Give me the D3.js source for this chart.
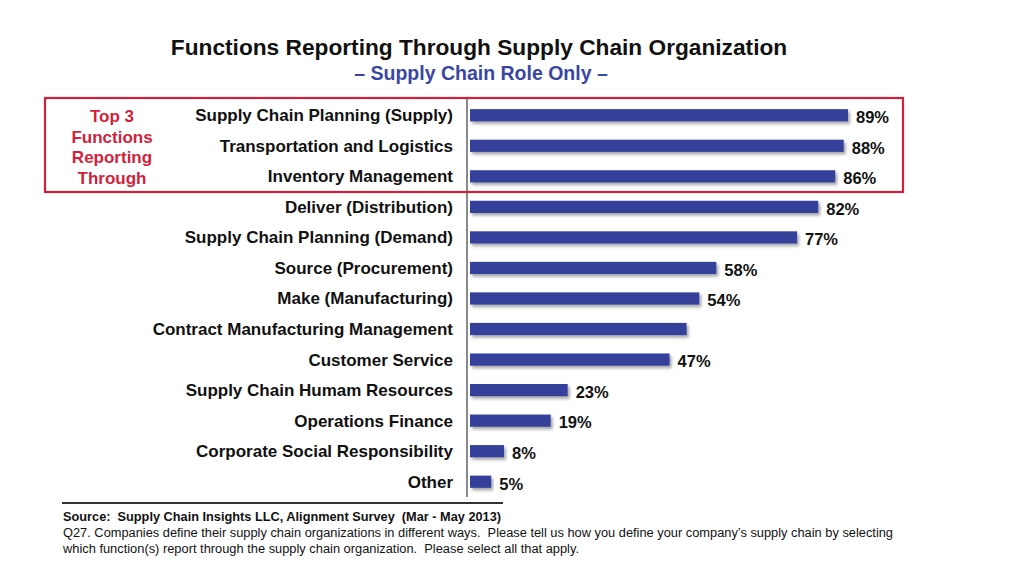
<!DOCTYPE html>
<html><head><meta charset="utf-8">
<script src="https://cdn.jsdelivr.net/npm/d3@7"></script>
<style>body{margin:0;background:#fff}svg{display:block}text{white-space:pre}</style>
</head><body>
<svg id="c" width="1024" height="565"></svg>
<script>
const categories = ["Supply Chain Planning (Supply)","Transportation and Logistics","Inventory Management","Deliver (Distribution)","Supply Chain Planning (Demand)","Source (Procurement)","Make (Manufacturing)","Contract Manufacturing Management","Customer Service","Supply Chain Humam Resources","Operations Finance","Corporate Social Responsibility","Other"];
const values = [89,88,86,82,77,58,54,51,47,23,19,8,5];
const showLabel = [true,true,true,true,true,true,true,false,true,true,true,true,true];
const highlightLines = ["Top 3","Functions","Reporting","Through"];
const title = "Functions Reporting Through Supply Chain Organization";
const subtitle = "\u2013 Supply Chain Role Only \u2013";
const sourceLine = "Source:  Supply Chain Insights LLC, Alignment Survey  (Mar - May 2013)";
const noteLines = ["Q27. Companies define their supply chain organizations in different ways.  Please tell us how you define your company\u2019s supply chain by selecting","which function(s) report through the supply chain organization.  Please select all that apply."];

const svg = d3.select("#c");
const F = "Liberation Sans, Arial, sans-serif";
const blue = "#34409b", red = "#d21f3c";

const x = d3.scaleLinear().domain([0,100]).range([470, 894.7]);
const y = d3.scaleBand().domain(categories).range([100, 497]).paddingInner(0.6).paddingOuter(0.3);

const defs = svg.append("defs");
const f = defs.append("filter").attr("id","sh").attr("x","-5%").attr("y","-50%").attr("width","115%").attr("height","250%");
f.append("feDropShadow").attr("dx",2).attr("dy",2.5).attr("stdDeviation",1.5).attr("flood-color","#000").attr("flood-opacity",0.35);

svg.append("text").attr("x",479).attr("y",55).attr("text-anchor","middle")
  .attr("font-family",F).attr("font-weight","bold").attr("font-size",22.7).attr("fill","#111").text(title);
svg.append("text").attr("x",481).attr("y",80).attr("text-anchor","middle")
  .attr("font-family",F).attr("font-weight","bold").attr("font-size",19.5).attr("fill","#3a46a3").text(subtitle);

// bars
svg.append("g").selectAll("rect").data(categories).join("rect")
  .attr("x", x(0)).attr("y", d => y(d))
  .attr("width", (d,i) => x(values[i]) - x(0)).attr("height", y.bandwidth())
  .attr("fill", blue).attr("filter","url(#sh)");

// axis line
svg.append("line").attr("x1",467).attr("x2",467).attr("y1",98).attr("y2",497)
  .attr("stroke","#8a8a8a").attr("stroke-width",2);

// category labels
svg.append("g").selectAll("text").data(categories).join("text")
  .attr("x",453).attr("y", d => y(d) + y.bandwidth()/2).attr("dy","0.35em")
  .attr("text-anchor","end").attr("font-family",F).attr("font-weight","bold")
  .attr("font-size",17).attr("fill","#111").text(d => d);

// value labels
svg.append("g").selectAll("text").data(categories.filter((d,i)=>showLabel[i])).join("text")
  .attr("x", d => x(values[categories.indexOf(d)]) + 8)
  .attr("y", d => y(d) + y.bandwidth()/2 + 2).attr("dy","0.35em")
  .attr("font-family",F).attr("font-weight","bold").attr("font-size",16.5).attr("fill","#111")
  .text(d => values[categories.indexOf(d)] + "%");

// highlight box
svg.append("rect").attr("x",45).attr("y",98).attr("width",858).attr("height",94)
  .attr("fill","none").attr("stroke",red).attr("stroke-width",2.2);
svg.append("g").selectAll("text").data(highlightLines).join("text")
  .attr("x",112).attr("y",(d,i)=>122 + i*20.5).attr("text-anchor","middle")
  .attr("font-family",F).attr("font-weight","bold").attr("font-size",17).attr("fill",red).text(d=>d);

// footer
svg.append("line").attr("x1",62).attr("x2",503).attr("y1",503).attr("y2",503)
  .attr("stroke","#333").attr("stroke-width",2);
svg.append("text").attr("x",63).attr("y",521).attr("font-family",F).attr("font-weight","bold")
  .attr("font-size",12.5).attr("fill","#111").attr("textLength",438).attr("lengthAdjust","spacingAndGlyphs").text(sourceLine);
svg.append("g").selectAll("text").data(noteLines).join("text")
  .attr("x",63).attr("y",(d,i)=>537 + i*15.5).attr("font-family",F).attr("font-size",12.5).attr("fill","#111")
  .attr("textLength",(d,i)=> i===0 ? 830 : 516).attr("lengthAdjust","spacingAndGlyphs").text(d=>d);
</script>
</body></html>
